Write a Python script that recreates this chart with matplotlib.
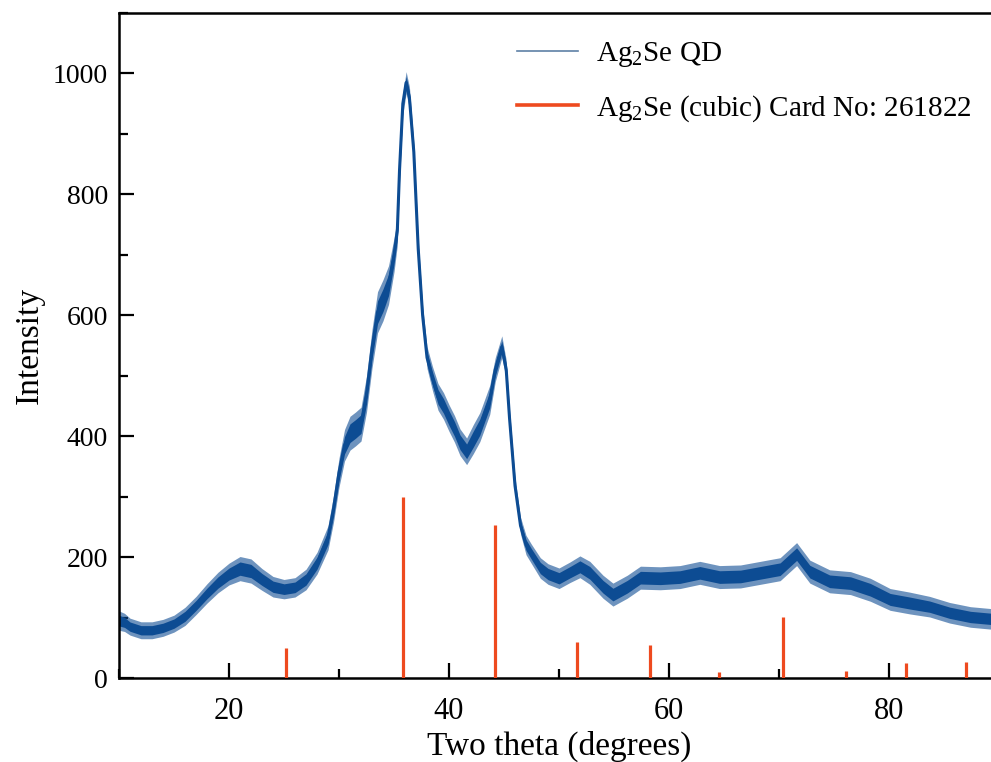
import matplotlib
matplotlib.use("Agg")
import matplotlib.pyplot as plt
from matplotlib.lines import Line2D
from matplotlib.ticker import MultipleLocator

# Measured diffraction trace: 2-theta (deg), mean intensity and half-width of the noise band
two_theta = [10, 10.5, 11, 12, 13, 14, 15, 16, 17, 18, 19, 20, 21, 22, 23, 24, 25, 26, 27, 28,
             29, 29.5, 30, 30.5, 31, 31.5, 32, 32.5, 33, 33.5, 34, 34.5, 35, 35.3, 35.5, 35.8,
             36.1, 36.4, 36.8, 37.2, 37.6, 38, 38.5, 39, 39.5, 40, 40.5, 41, 41.6, 42.2, 42.8,
             43.3, 43.7, 44.2, 44.8, 45.2, 45.5, 46, 46.5, 47, 47.5, 48.3, 49, 50, 51, 51.9,
             52.8, 54, 54.9, 56.2, 57.4, 59.2, 61, 62.8, 64.6, 66.5, 68.3, 70.1, 71.6, 72.8,
             74.6, 76.5, 78.3, 80.1, 81.9, 83.7, 85.5, 87.4, 89.2, 90]
intensity = [95, 92, 85, 79, 79, 83, 90, 102, 120, 140, 158, 172, 181, 177, 163, 151, 147, 150, 163, 190,
             232, 280, 340, 385, 405, 412, 420, 470, 545, 605, 625, 650, 700, 740, 840, 950,
             985, 960, 870, 710, 600, 530, 495, 465, 450, 430, 412, 390, 375, 395, 415,
             440, 460, 510, 548, 510, 430, 318, 252, 220, 205, 182, 172, 165, 175, 184,
             174, 151, 138, 151, 166, 165, 167, 174, 167, 168, 174, 180, 205, 176,
             160, 157, 146, 130, 124, 118, 108, 101, 98, 96]
spread = [16, 15, 14, 14, 14, 14, 14, 15, 15, 16, 17, 18, 20, 20, 18, 17, 16, 16, 17, 18,
          20, 22, 24, 26, 28, 28, 28, 30, 32, 34, 34, 32, 28, 24, 20, 18,
          18, 18, 16, 16, 16, 18, 20, 22, 22, 22, 22, 22, 22, 24, 24,
          24, 24, 20, 18, 16, 14, 14, 14, 16, 16, 17, 17, 17, 17, 18,
          19, 19, 19, 19, 19, 19, 19, 19, 19, 19, 19, 19, 19, 19,
          19, 19, 19, 18, 18, 17, 17, 17, 17, 17]

# Reference pattern, Ag2Se (cubic) card No. 261822
card_theta = [25.2, 35.8, 44.2, 51.6, 58.3, 64.5, 70.4, 76.1, 81.5, 87.0]
card_intensity = [50, 300, 253, 60, 55, 10, 101, 12, 25, 26]

series_labels = [r"Ag$_2$Se QD", r"Ag$_2$Se (cubic) Card No: 261822"]

blue = "#0D4C93"
red = "#EE4A1F"

plt.rcParams["font.family"] = ["Liberation Serif", "DejaVu Serif"]
plt.rcParams["mathtext.fontset"] = "custom"
plt.rcParams["mathtext.rm"] = "Liberation Serif"
plt.rcParams["mathtext.it"] = "Liberation Serif:italic"

fig = plt.figure(figsize=(9.91, 7.62), dpi=100)
ax = fig.add_axes([0.1201, 0.1102, 0.888, 0.8727])

# noise band: lighter outer envelope, denser core
outer_lo = [m - s for m, s in zip(intensity, spread)]
outer_hi = [m + s for m, s in zip(intensity, spread)]
inner_lo = [m - 0.55 * s for m, s in zip(intensity, spread)]
inner_hi = [m + 0.55 * s for m, s in zip(intensity, spread)]
ax.fill_between(two_theta, outer_lo, outer_hi, color=blue, alpha=0.6, lw=0, zorder=2)
ax.fill_between(two_theta, inner_lo, inner_hi, color=blue, lw=0, zorder=2)
ax.plot(two_theta, intensity, color=blue, lw=2.2, zorder=2)

ax.vlines(card_theta, 0, card_intensity, color=red, lw=2.3, zorder=3)

ax.set_xlim(10, 90)
ax.set_ylim(0, 1100)

ax.xaxis.set_major_locator(MultipleLocator(20))
ax.xaxis.set_minor_locator(MultipleLocator(10))
ax.yaxis.set_major_locator(MultipleLocator(200))
ax.yaxis.set_minor_locator(MultipleLocator(100))

ax.tick_params(which="both", direction="in", top=False, right=False,
               width=1.6, colors="black")
ax.tick_params(which="major", length=11)
ax.tick_params(which="minor", length=6.5)
ax.tick_params(axis="y", which="major", pad=8, labelsize=20)
ax.tick_params(axis="x", which="major", pad=14, labelsize=22)

for side in ["left", "bottom", "top", "right"]:
    ax.spines[side].set_linewidth(1.8)

ax.set_xlabel("Two theta (degrees)", fontsize=24, labelpad=3)
ax.set_ylabel("Intensity", fontsize=24, labelpad=6)

handles = [Line2D([], [], color="#5E80A6", lw=1.2),
           Line2D([], [], color=red, lw=2.6)]
ax.legend(handles, series_labels, loc="upper left", bbox_to_anchor=(0.4355, 0.981),
          frameon=False, fontsize=21, borderpad=0, handlelength=2.1,
          handletextpad=0.6, labelspacing=0.82)

fig.savefig("out.png", dpi=100)
